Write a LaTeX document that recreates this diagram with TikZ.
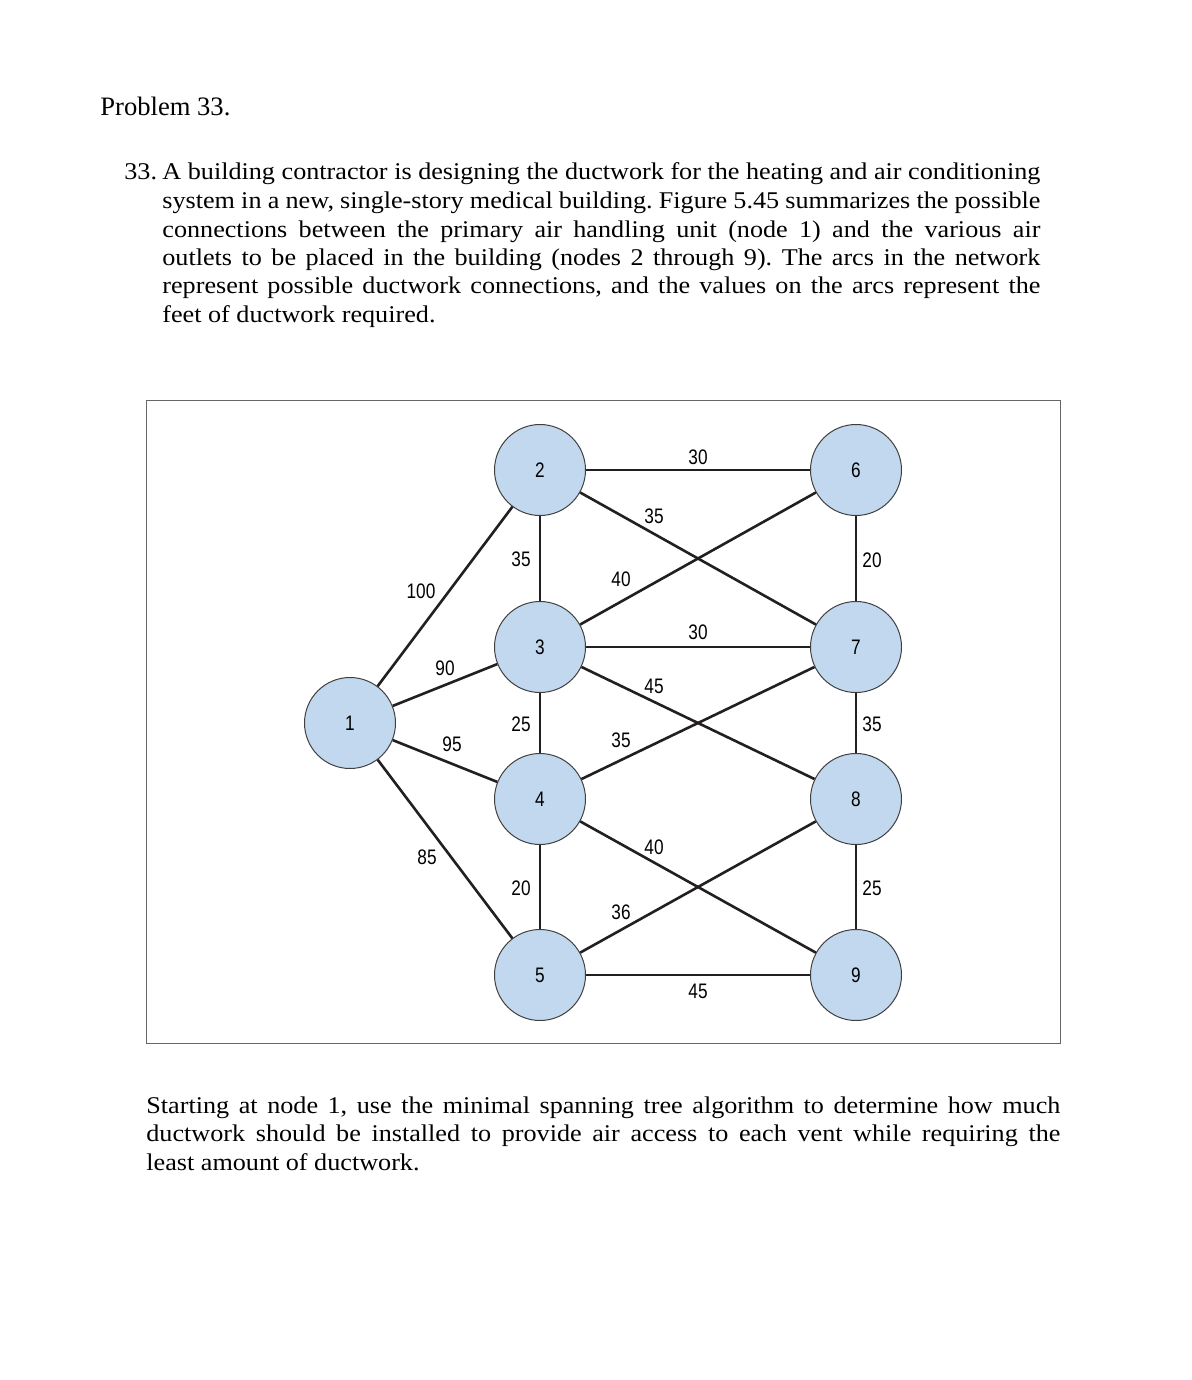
\documentclass[tikz,border=0pt]{standalone}
\usepackage{fontspec}
\setmainfont{Liberation Serif}
\newfontfamily\bodyfont[FakeStretch=1.09]{Liberation Serif}
\newfontfamily\netfont[FakeStretch=0.82]{Liberation Sans}
\frenchspacing

\definecolor{ventblue}{RGB}{193, 216, 238}
\definecolor{ductcolor}{RGB}{35, 31, 32}

\tikzset{
    vent/.style={circle, draw=black!75, line width=0.5pt, fill=ventblue, minimum size=45.5pt, inner sep=0pt, font=\netfont\fontsize{10.5}{12}\selectfont},
    duct/.style={ductcolor, line width=1.3pt},
    feet/.style={inner sep=0pt, font=\netfont\fontsize{10.5}{12}\selectfont},
    para/.style={anchor=base west, inner sep=0pt, align=justify, font=\bodyfont\fontsize{12}{14.25}\selectfont},
}

\begin{document}
\begin{tikzpicture}[x=0.5pt, y=-0.5pt]
    \useasboundingbox (0,0) rectangle (1192,1380);

    % problem text
    \node[anchor=base west, inner sep=0pt, font=\fontsize{13.3}{15}\selectfont] (title) at (100,116) {Problem 33.};
    \node[para] (number) at (124,180) {33.};
    \node[para, text width=439pt] (problem) at (162,180) {A building contractor is designing the ductwork for the heating and air conditioning \linebreak system in a new, single-story medical building. Figure 5.45 summarizes the possible \linebreak connections between the primary air handling unit (node 1) and the various air \linebreak outlets to be placed in the building (nodes 2 through 9). The arcs in the network \linebreak represent possible ductwork connections, and the values on the arcs represent the \linebreak feet of ductwork required.};

    % figure frame
    \draw[black!60, line width=0.5pt] (146,400) rectangle (1060,1043);

    % nodes
    \node[vent] (n1) at (350,723) {1};
    \foreach \i/\y in {2/470, 3/647, 4/799, 5/975} {
            \node[vent] (n\i) at (540,\y) {\i};
        }
    \foreach \i/\y in {6/470, 7/647, 8/799, 9/975} {
            \node[vent] (n\i) at (856,\y) {\i};
        }

    % arcs and feet of ductwork
    \foreach \a/\b/\w/\lx/\ly in {1/2/100/421/591, 1/3/90/445/668, 1/4/95/452/744, 1/5/85/427/857,
            2/3/35/521/559, 3/4/25/521/724, 4/5/20/521/888,
            2/6/30/698/457, 2/7/35/654/516, 3/6/40/621/579, 3/7/30/698/632, 3/8/45/654/686,
            4/7/35/621/740, 4/9/40/654/847, 5/8/36/621/912, 5/9/45/698/991,
            6/7/20/872/560, 7/8/35/872/724, 8/9/25/872/888} {
            \draw[duct] (n\a) -- (n\b);
            \node[feet] (w\a\b) at (\lx,\ly) {\w};
        }

    % question
    \node[para, text width=457pt] (question) at (146,1113) {Starting at node 1, use the minimal spanning tree algorithm to determine how much \linebreak ductwork should be installed to provide air access to each vent while requiring the \linebreak least amount of ductwork.};
\end{tikzpicture}
\end{document}
